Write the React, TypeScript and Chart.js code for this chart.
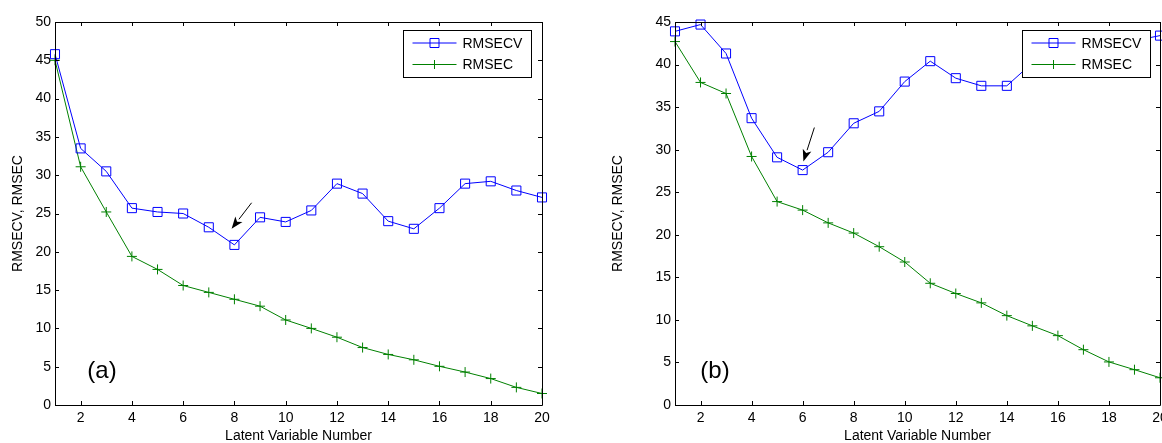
import React, { useEffect, useRef } from "react";
import { Chart, registerables } from "chart.js";

Chart.register(...registerables);

const latent = [1, 2, 3, 4, 5, 6, 7, 8, 9, 10, 11, 12, 13, 14, 15, 16, 17, 18, 19, 20];

const rmsecvA = [45.8, 33.5, 30.5, 25.7, 25.2, 25.0, 23.2, 20.9, 24.5, 23.9, 25.4, 28.9, 27.6, 24.0, 23.0, 25.7, 28.9, 29.2, 28.0, 27.1];
const rmsecA = [45.0, 31.1, 25.2, 19.4, 17.7, 15.6, 14.7, 13.8, 12.9, 11.1, 10.0, 8.85, 7.5, 6.6, 5.9, 5.05, 4.3, 3.45, 2.3, 1.5];

const rmsecvB = [43.9, 44.7, 41.3, 33.7, 29.1, 27.6, 29.7, 33.1, 34.5, 38.0, 40.4, 38.4, 37.5, 37.5, 40.2, 41.5, 42.5, 43.0, 42.8, 43.4];
const rmsecB = [42.7, 37.9, 36.6, 29.2, 23.9, 22.9, 21.4, 20.2, 18.6, 16.8, 14.3, 13.1, 12.0, 10.5, 9.3, 8.15, 6.5, 5.06, 4.15, 3.2];

const xTicks = [2, 4, 6, 8, 10, 12, 14, 16, 18, 20];
const yTicksA = [0, 5, 10, 15, 20, 25, 30, 35, 40, 45, 50];
const yTicksB = [0, 5, 10, 15, 20, 25, 30, 35, 40, 45];

const seriesNames = ["RMSECV", "RMSEC"];
const xTitle = "Latent Variable Number";
const yTitle = "RMSECV, RMSEC";
const panelLabels = ["(a)", "(b)"];

// arrow annotations in data units: [fromX, fromY, toX, toY]
const arrowA = [8.67, 26.4, 7.89, 23.0];
const arrowB = [6.46, 32.6, 6.03, 28.6];

const BLUE = "#0000ff";
const GREEN = "#008000";
const FONT = "'Liberation Sans', Arial, Helvetica, sans-serif";

Chart.defaults.font.family = FONT;
Chart.defaults.font.size = 14;
Chart.defaults.color = "#000";

type PanelCfg = {
  cv: number[];
  c: number[];
  yTicks: number[];
  yMax: number;
  arrow: number[];
  label: string;
  labelDx: number;
  padLeft: number;
  padRight: number;
  yAxisWidth: number;
  legendRightGap: number;
  canvasWidth: number;
};

function makeFramePlugin(cfg: PanelCfg) {
  return {
    id: "matlabFrame",
    afterDatasetsDraw(chart: any) {
      const ctx = chart.ctx as CanvasRenderingContext2D;
      const { left, right, top, bottom } = chart.chartArea;
      const xs = chart.scales.x;
      const ys = chart.scales.y;
      ctx.save();
      // axes box
      ctx.strokeStyle = "#000";
      ctx.lineWidth = 1;
      ctx.beginPath();
      ctx.rect(Math.round(left) + 0.5, Math.round(top) + 0.5, Math.round(right - left), Math.round(bottom - top));
      ctx.stroke();
      // inward ticks
      const tl = 4;
      ctx.beginPath();
      xTicks.forEach((v) => {
        const px = Math.round(xs.getPixelForValue(v)) + 0.5;
        ctx.moveTo(px, bottom);
        ctx.lineTo(px, bottom - tl);
        ctx.moveTo(px, top);
        ctx.lineTo(px, top + tl);
      });
      cfg.yTicks.forEach((v) => {
        const py = Math.round(ys.getPixelForValue(v)) + 0.5;
        ctx.moveTo(left, py);
        ctx.lineTo(left + tl, py);
        ctx.moveTo(right, py);
        ctx.lineTo(right - tl, py);
      });
      ctx.stroke();

      // arrow
      const [fx, fy, tx, ty] = cfg.arrow;
      const x1 = xs.getPixelForValue(fx);
      const y1 = ys.getPixelForValue(fy);
      const x2 = xs.getPixelForValue(tx);
      const y2 = ys.getPixelForValue(ty);
      const ang = Math.atan2(y2 - y1, x2 - x1);
      const headLen = 12;
      const headW = 4.5;
      const bx = x2 - headLen * Math.cos(ang);
      const by = y2 - headLen * Math.sin(ang);
      ctx.strokeStyle = "#000";
      ctx.fillStyle = "#000";
      ctx.lineWidth = 1;
      ctx.beginPath();
      ctx.moveTo(x1, y1);
      ctx.lineTo(bx, by);
      ctx.stroke();
      ctx.beginPath();
      ctx.moveTo(x2, y2);
      ctx.lineTo(bx + headW * Math.sin(ang), by - headW * Math.cos(ang));
      ctx.lineTo(bx + 3 * Math.cos(ang), by + 3 * Math.sin(ang));
      ctx.lineTo(bx - headW * Math.sin(ang), by + headW * Math.cos(ang));
      ctx.closePath();
      ctx.fill();

      // panel label
      ctx.font = `24px ${FONT}`;
      ctx.fillStyle = "#000";
      ctx.textAlign = "center";
      ctx.textBaseline = "middle";
      ctx.fillText(cfg.label, left + cfg.labelDx, bottom - 34);

      // legend
      const bw = 128;
      const bh = 47;
      const bxl = Math.round(right - cfg.legendRightGap - bw) + 0.5;
      const byt = Math.round(top + 8) + 0.5;
      ctx.fillStyle = "#fff";
      ctx.fillRect(bxl, byt, bw, bh);
      ctx.strokeStyle = "#000";
      ctx.lineWidth = 1;
      ctx.strokeRect(bxl, byt, bw, bh);
      const rows = [
        { name: seriesNames[0], color: BLUE, marker: "rect", y: byt + 12.5 },
        { name: seriesNames[1], color: GREEN, marker: "cross", y: byt + 34 },
      ];
      rows.forEach((r) => {
        ctx.strokeStyle = r.color;
        ctx.lineWidth = 1;
        ctx.beginPath();
        ctx.moveTo(bxl + 9, r.y);
        ctx.lineTo(bxl + 53, r.y);
        ctx.stroke();
        const mx = bxl + 31;
        ctx.beginPath();
        if (r.marker === "rect") {
          ctx.rect(mx - 4.5, r.y - 4.5, 9, 9);
        } else {
          ctx.moveTo(mx - 4.5, r.y);
          ctx.lineTo(mx + 4.5, r.y);
          ctx.moveTo(mx, r.y - 4.5);
          ctx.lineTo(mx, r.y + 4.5);
        }
        ctx.stroke();
        ctx.fillStyle = "#000";
        ctx.font = `14px ${FONT}`;
        ctx.textAlign = "left";
        ctx.textBaseline = "middle";
        ctx.fillText(r.name, bxl + 59, r.y + 1);
      });
      ctx.restore();
    },
  };
}

function Panel({ cfg, left }: { cfg: PanelCfg; left: number }) {
  const ref = useRef<HTMLCanvasElement | null>(null);
  useEffect(() => {
    if (!ref.current) return;
    const chart = new Chart(ref.current, {
      type: "line",
      data: {
        datasets: [
          {
            label: seriesNames[0],
            data: latent.map((x, i) => ({ x, y: cfg.cv[i] })),
            borderColor: BLUE,
            backgroundColor: "transparent",
            borderWidth: 1,
            pointStyle: "rect",
            pointRadius: 6.4,
            pointBorderColor: BLUE,
            pointBackgroundColor: "transparent",
            pointBorderWidth: 1,
            tension: 0,
            clip: false as any,
          },
          {
            label: seriesNames[1],
            data: latent.map((x, i) => ({ x, y: cfg.c[i] })),
            borderColor: GREEN,
            backgroundColor: "transparent",
            borderWidth: 1,
            pointStyle: "cross",
            pointRadius: 5,
            pointBorderColor: GREEN,
            pointBorderWidth: 1,
            tension: 0,
            clip: false as any,
          },
        ],
      },
      options: {
        responsive: false,
        animation: false,
        events: [],
        layout: { padding: { left: cfg.padLeft, top: 22, right: cfg.padRight, bottom: 0 } },
        plugins: { legend: { display: false }, tooltip: { enabled: false } },
        scales: {
          x: {
            type: "linear",
            min: 1,
            max: 20,
            grid: { display: false, drawTicks: false },
            border: { display: false },
            ticks: { padding: 5, font: { size: 14 }, color: "#000", autoSkip: false, maxRotation: 0 },
            title: { display: true, text: xTitle, font: { size: 14, lineHeight: 1 }, color: "#000", padding: { top: 0, bottom: 0 } },
            afterBuildTicks: (s: any) => {
              s.ticks = xTicks.map((v) => ({ value: v }));
            },
            afterFit: (s: any) => {
              s.height = 38;
              s.paddingLeft = 0;
              s.paddingRight = 0;
            },
          } as any,
          y: {
            type: "linear",
            min: 0,
            max: cfg.yMax,
            grid: { display: false, drawTicks: false },
            border: { display: false },
            ticks: { padding: 4, font: { size: 14 }, color: "#000", autoSkip: false },
            title: { display: true, text: yTitle, font: { size: 14, lineHeight: 1 }, color: "#000", padding: { top: 11.5, bottom: 0 } },
            afterBuildTicks: (s: any) => {
              s.ticks = cfg.yTicks.map((v) => ({ value: v }));
            },
            afterFit: (s: any) => {
              s.width = cfg.yAxisWidth;
              s.paddingTop = 0;
              s.paddingBottom = 0;
            },
          } as any,
        },
      },
      plugins: [makeFramePlugin(cfg)],
    });
    return () => chart.destroy();
  }, [cfg]);
  return (
    <canvas
      ref={ref}
      width={cfg.canvasWidth}
      height={443}
      style={{ position: "absolute", left, top: 0, width: cfg.canvasWidth, height: 443 }}
    />
  );
}

const cfgA: PanelCfg = {
  cv: rmsecvA,
  c: rmsecA,
  yTicks: yTicksA,
  yMax: 50,
  arrow: arrowA,
  label: panelLabels[0],
  labelDx: 47,
  padLeft: 0,
  padRight: 39,
  yAxisWidth: 55,
  legendRightGap: 11,
  canvasWidth: 581,
};

const cfgB: PanelCfg = {
  cv: rmsecvB,
  c: rmsecB,
  yTicks: yTicksB,
  yMax: 45,
  arrow: arrowB,
  label: panelLabels[1],
  labelDx: 40,
  padLeft: 19,
  padRight: 21,
  yAxisWidth: 75,
  legendRightGap: 10,
  canvasWidth: 600,
};

export default function App() {
  return (
    <div style={{ position: "fixed", left: 0, top: 0, width: 1162, height: 443, background: "#fff", overflow: "hidden" }}>
      <Panel cfg={cfgA} left={0} />
      <Panel cfg={cfgB} left={581} />
    </div>
  );
}
